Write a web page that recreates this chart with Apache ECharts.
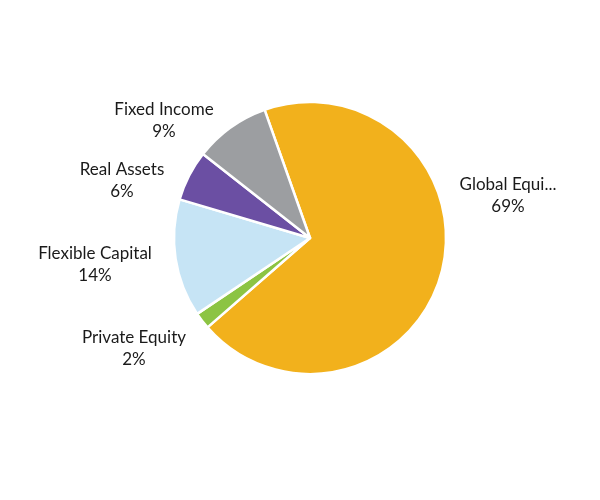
<!DOCTYPE html>
<html><head><meta charset="utf-8">
<script src="https://cdn.jsdelivr.net/npm/echarts@6/dist/echarts.min.js"></script>
<style>html,body{margin:0;background:#fff}#c{width:600px;height:500px}</style>
</head><body><div id="c"></div>
<script>
const categories = ['Global Equity','Private Equity','Flexible Capital','Real Assets','Fixed Income'];
const values = [69, 2, 14, 6, 9];
const colors = ['#F2B11C','#8CC443','#C6E4F5','#6B4FA3','#9C9EA1'];
const labelPos = [[508,196],[134,349],[95,265],[122,181],[164,121]];
const chart = echarts.init(document.getElementById('c'));
chart.setOption({
  animation:false,
  series:[{
    type:'pie', center:[310,238], radius:[0,136], startAngle:109.5, clockwise:true,
    data: categories.map((n,i)=>({name:n,value:values[i],itemStyle:{color:colors[i]}})),
    itemStyle:{borderColor:'#fff',borderWidth:2.5},
    label:{show:true,position:'outside',formatter:'{b}\n{c}%',color:'#1a1a1a',fontFamily:'Lato',fontSize:17,lineHeight:22,align:'center'},
    labelLine:{show:false},
    labelLayout:function(p){const q=labelPos[p.dataIndex];return {x:q[0],y:q[1],align:'center',verticalAlign:'middle'};}
  }]
});
</script></body></html>
